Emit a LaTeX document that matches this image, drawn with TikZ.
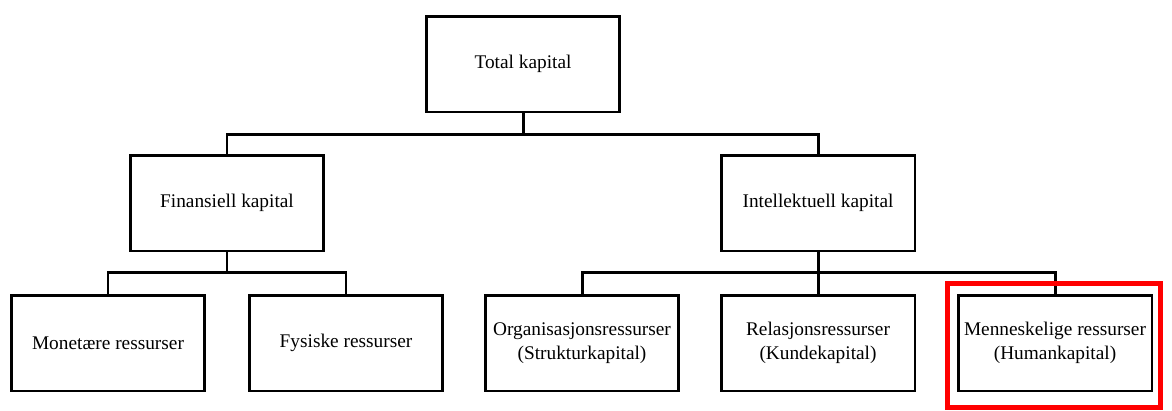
\documentclass[tikz,border=0pt]{standalone}
\usepackage{fontspec}
\setmainfont{Liberation Serif}
\usepackage{tikz}
\usetikzlibrary{calc,positioning,fit}
\tikzset{
  kbox/.style={draw, line width=1.7pt, minimum width=3.88cm, minimum height=1.92cm,
    inner sep=2pt, align=center, font=\fontsize{11}{14}\selectfont},
  link/.style={line width=1.7pt},
}
\begin{document}
\begin{tikzpicture}[x=0.02cm,y=-0.02cm]
\useasboundingbox (0,0) rectangle (1172,410);
\node[kbox] (total) at (523,64) {Total kapital};
\node[kbox] (fin) at (227,203) {Finansiell kapital};
\node[kbox] (int) at (818,203) {Intellektuell kapital};
\node[kbox] (mon) at (108,343) {Monetære ressurser};
\node[kbox] (fys) at (346,343) {Fysiske ressurser};
\node[kbox] (org) at (582,343) {Organisasjonsressurser\\(Strukturkapital)};
\node[kbox] (rel) at (818,343) {Relasjonsressurser\\(Kundekapital)};
\node[kbox] (men) at (1055,343) {Menneskelige ressurser\\(Humankapital)};
\draw[link] (total.south) -- ++(0,21) coordinate(T) -| (fin.north);
\draw[link] (T) -| (int.north);
\draw[link] (fin.south) -- ++(0,20) coordinate(F) -| (mon.north);
\draw[link] (F) -| (fys.north);
\draw[link] (int.south) -- ++(0,20) coordinate(I) -| (org.north);
\draw[link] (I) -- (rel.north);
\draw[link] (I) -| (men.north);
\draw[red, line width=2.6pt] ($(men.north west)+(-9,-10)$) rectangle ($(men.south east)+(7,15)$);
\end{tikzpicture}
\end{document}
